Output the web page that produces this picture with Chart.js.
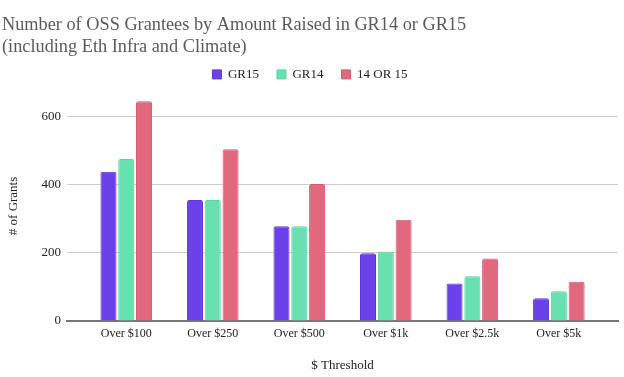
<!DOCTYPE html>
<html>
<head>
<meta charset="utf-8">
<script src="https://cdn.jsdelivr.net/npm/chart.js@4"></script>
<style>
  html, body { margin: 0; padding: 0; background: #fff; }
  #wrap { width: 624px; height: 377px; }
</style>
</head>
<body>
<div id="wrap"><canvas id="grants"></canvas></div>
<script>
var thresholds = ["Over $100", "Over $250", "Over $500", "Over $1k", "Over $2.5k", "Over $5k"];
var gr15 = [438, 355, 278, 199, 110, 67];
var gr14 = [475, 355, 278, 204, 131, 87];
var either = [645, 504, 402, 297, 183, 115];
var yTicks = [0, 200, 400, 600];

var serif = "'Liberation Serif', 'Times New Roman', serif";

// bars sit on a linear x scale so the axis can run past the outer groups
function pts(arr) {
  return arr.map(function(v, i) { return { x: i, y: v }; });
}

var ctx = document.getElementById("grants").getContext("2d");
var chart = new Chart(ctx, {
  type: 'bar',
  data: {
    datasets: [
      { label: "GR15", data: pts(gr15), backgroundColor: '#6a42e8', borderColor: '#5b34dc' },
      { label: "GR14", data: pts(gr14), backgroundColor: '#68e0b0', borderColor: '#55d6a0' },
      { label: "14 OR 15", data: pts(either), backgroundColor: '#e2687e', borderColor: '#d95670' }
    ]
  },
  options: {
    responsive: true,
    maintainAspectRatio: false,
    animation: false,
    layout: { padding: { left: 2, right: 6, top: 6, bottom: 0 } },
    datasets: {
      bar: {
        categoryPercentage: 0.617,
        barPercentage: 0.9,
        borderWidth: 1,
        borderRadius: { topLeft: 2, topRight: 2 },
        borderSkipped: 'bottom'
      }
    },
    plugins: {
      title: {
        display: true,
        text: ["Number of OSS Grantees by Amount Raised in GR14 or GR15", "(including Eth Infra and Climate)"],
        align: 'start',
        color: '#5a5a5a',
        font: { family: serif, size: 18.3, weight: 'normal', lineHeight: 1.2 },
        padding: { top: 8, bottom: -8 }
      },
      legend: {
        labels: {
          boxWidth: 9,
          boxHeight: 9,
          color: '#222',
          padding: 18,
          font: { family: serif, size: 13 }
        }
      },
      tooltip: { enabled: false }
    },
    scales: {
      x: {
        type: 'linear',
        min: -0.6835,
        max: 5.6835,
        offset: false,
        afterBuildTicks: function(axis) {
          axis.ticks = thresholds.map(function(t, i) { return { value: i }; });
        },
        grid: { display: false },
        border: { display: true, color: '#777', width: 2 },
        ticks: {
          color: '#222',
          font: { family: serif, size: 12 },
          padding: -2,
          callback: function(v) { return thresholds[v]; }
        },
        title: { display: true, text: "$ Threshold", color: '#222', font: { family: serif, size: 13 }, padding: { top: 18 } }
      },
      y: {
        min: 0,
        max: 675,
        afterBuildTicks: function(axis) {
          axis.ticks = yTicks.map(function(v) { return { value: v }; });
        },
        grid: { color: '#cccccc', drawTicks: false },
        border: { display: false },
        ticks: { color: '#222', font: { family: serif, size: 13 }, padding: 6 },
        title: { display: true, text: "# of Grants", color: '#222', font: { family: serif, size: 13 }, padding: { bottom: 14 } }
      }
    }
  }
});
</script>
</body>
</html>
